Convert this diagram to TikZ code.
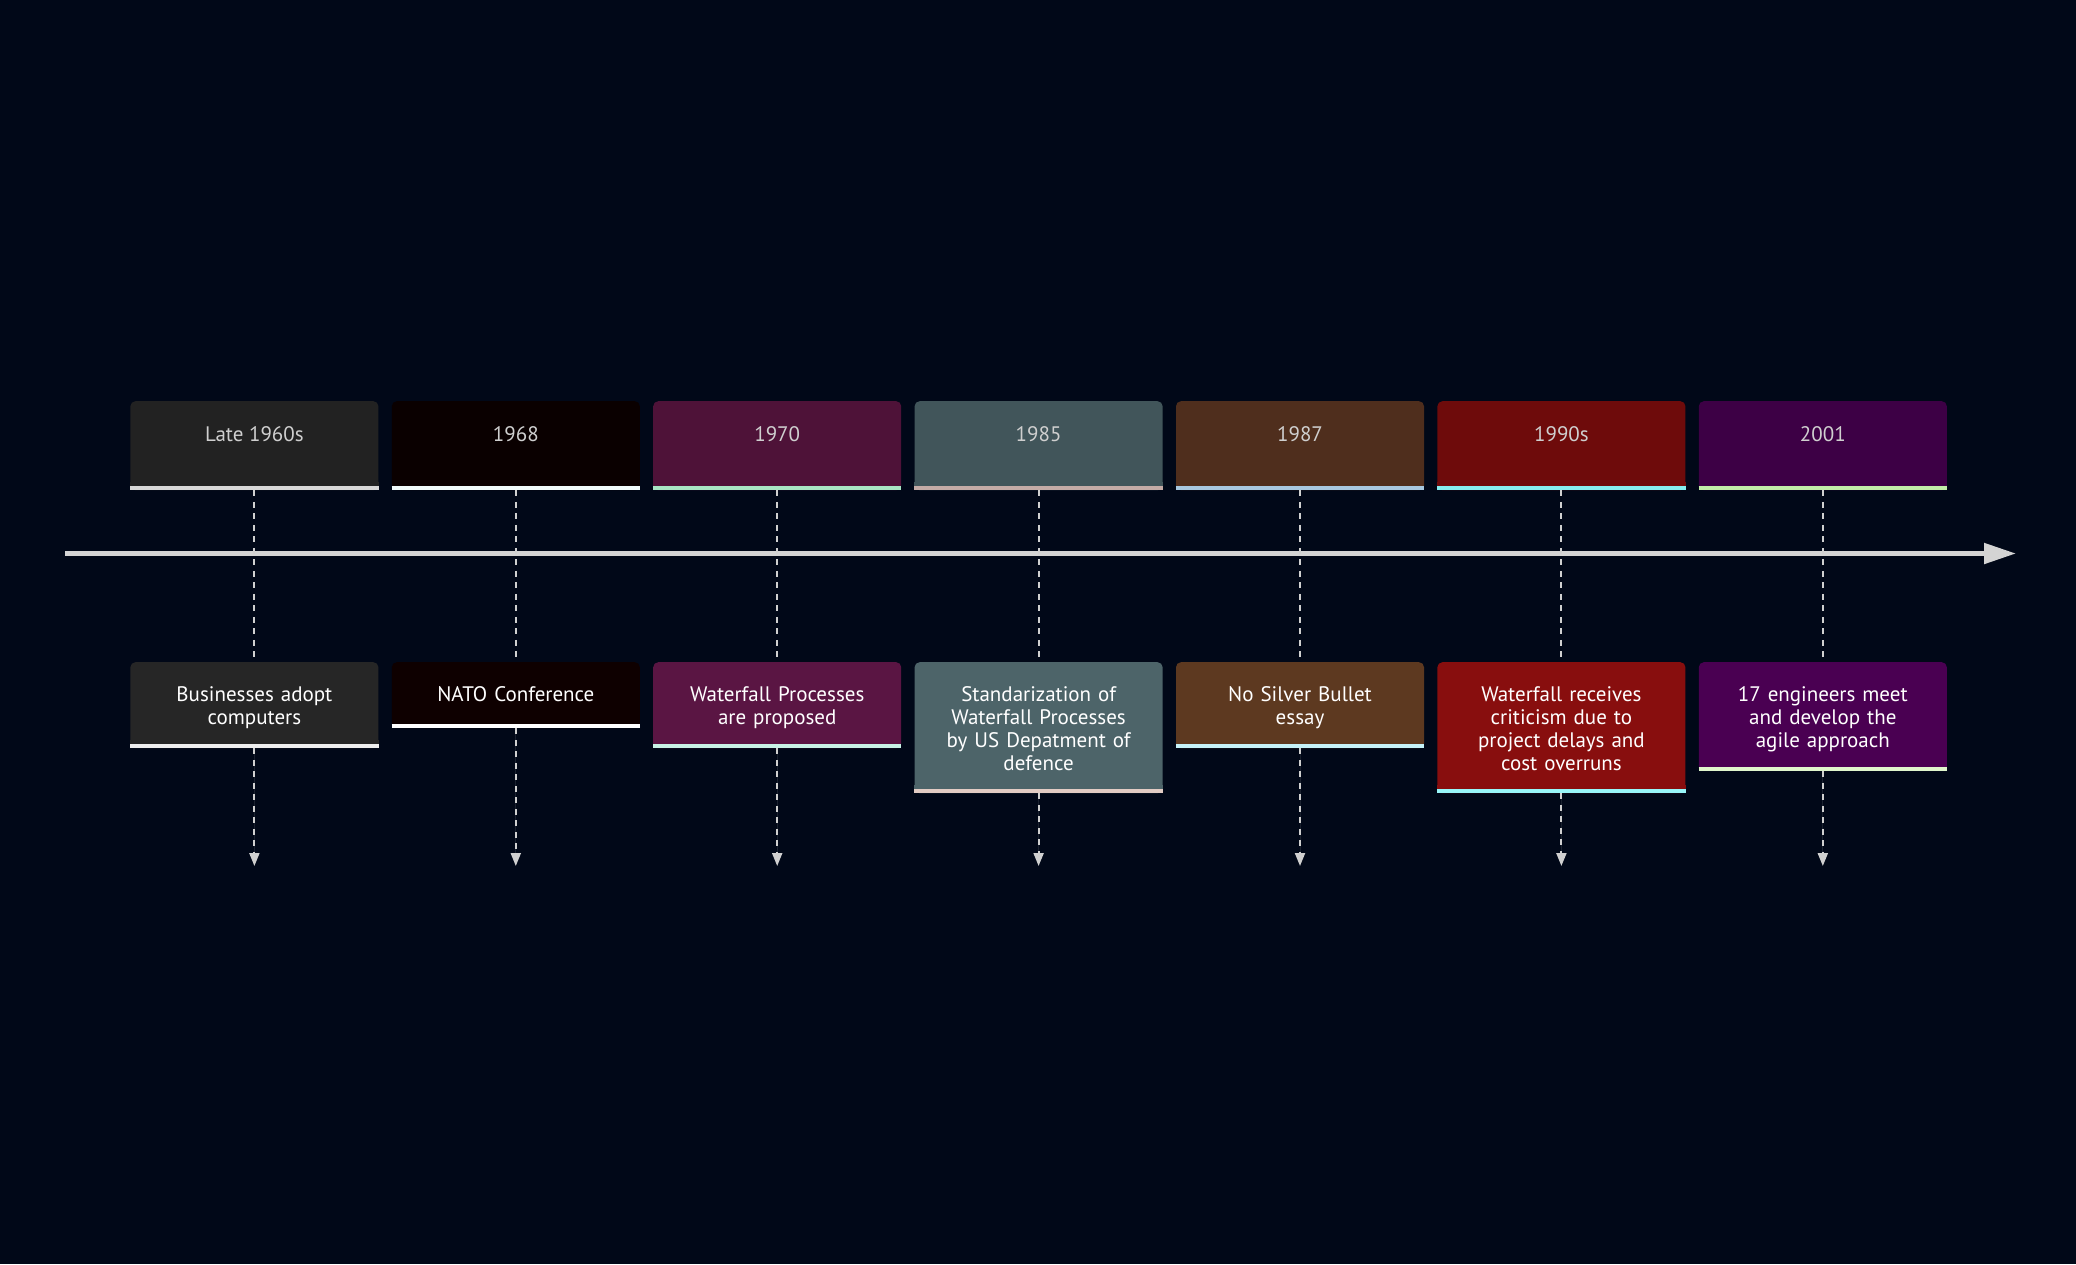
\documentclass[tikz,border=0pt]{standalone}
\usepackage{fontspec}
\setmainfont{PT Sans}
\usetikzlibrary{arrows.meta}
\definecolor{bgcol}{HTML}{010818}
\definecolor{axiscol}{HTML}{D4D4D4}
\definecolor{dashcol}{HTML}{D0D0D0}
\definecolor{toptxt}{HTML}{CFCFCF}
\definecolor{tfA}{HTML}{222222}\definecolor{tlA}{HTML}{D8D8D8}\definecolor{efA}{HTML}{262626}\definecolor{elA}{HTML}{EEEEEE}
\definecolor{tfB}{HTML}{0A0000}\definecolor{tlB}{HTML}{F0FAFA}\definecolor{efB}{HTML}{0E0000}\definecolor{elB}{HTML}{FFFFFF}
\definecolor{tfC}{HTML}{4E1238}\definecolor{tlC}{HTML}{A8E6C4}\definecolor{efC}{HTML}{5A1543}\definecolor{elC}{HTML}{C8F2E6}
\definecolor{tfD}{HTML}{41555A}\definecolor{tlD}{HTML}{C4ABA6}\definecolor{efD}{HTML}{4D6469}\definecolor{elD}{HTML}{E2CCC4}
\definecolor{tfE}{HTML}{4F2E1D}\definecolor{tlE}{HTML}{A8C8E0}\definecolor{efE}{HTML}{5D3920}\definecolor{elE}{HTML}{C6F2F8}
\definecolor{tfF}{HTML}{6E0B0B}\definecolor{tlF}{HTML}{86EEF0}\definecolor{efF}{HTML}{880E0E}\definecolor{elF}{HTML}{98F6F8}
\definecolor{tfG}{HTML}{3D0045}\definecolor{tlG}{HTML}{C2EEA8}\definecolor{efG}{HTML}{4A0052}\definecolor{elG}{HTML}{E0F6CC}
\begin{document}
\begin{tikzpicture}[x=1pt,y=-1pt,
  periodbox/.style={rectangle, rounded corners=5pt, inner sep=0pt, minimum width=248pt, minimum height=89pt, anchor=north},
  periodtext/.style={anchor=base, inner sep=0pt, text=toptxt, font=\fontsize{21}{23}\selectfont},
  eventbox/.style={rectangle, rounded corners=5pt, inner sep=0pt, minimum width=248pt, anchor=north},
  eventtext/.style={anchor=north, inner sep=0pt, text width=236pt, align=center, text=white, font=\fontsize{21}{23}\selectfont},
  dashline/.style={draw=dashcol, line width=2pt, dash pattern=on 6pt off 5.5pt},
  axisline/.style={draw=axiscol, line width=5pt, -{Triangle[width=20pt,length=32pt]}}
]
\fill[bgcol] (0,0) rectangle (2076,1264);
\useasboundingbox (0,0) rectangle (2076,1264);

\coordinate (axstart) at (65,553.5);
\coordinate (axend) at (2016,553.5);
\draw[axisline] (axstart) -- (axend);

\foreach \i/\n/\yr/\txt/\h in {
  0/A/{Late 1960s}/{Businesses adopt\\computers}/86,
  1/B/{1968}/{NATO Conference}/66,
  2/C/{1970}/{Waterfall Processes\\are proposed}/86,
  3/D/{1985}/{Standarization of\\Waterfall Processes\\by US Depatment of\\defence}/131,
  4/E/{1987}/{No Silver Bullet\\essay}/86,
  5/F/{1990s}/{Waterfall receives\\criticism due to\\project delays and\\cost overruns}/131,
  6/G/{2001}/{17 engineers meet\\and develop the\\agile approach}/108.6}
{
  \pgfmathsetmacro{\cx}{254.4+261.4*\i}
  % period box
  \node[periodbox, fill=tf\n] (t\n) at (\cx,401) {};
  \fill[tf\n] ([yshift=8pt]t\n.south west) rectangle (t\n.south east);
  \draw[line width=4pt, tl\n] ([yshift=2pt]t\n.south west) -- ([yshift=2pt]t\n.south east);
  \node[periodtext] (tt\n) at ([yshift=-40pt]t\n.north) {\yr};
  % event box
  \node[eventbox, fill=ef\n, minimum height=\h pt] (e\n) at (\cx,662) {};
  \fill[ef\n] ([yshift=8pt]e\n.south west) rectangle (e\n.south east);
  \draw[line width=4pt, el\n] ([yshift=2pt]e\n.south west) -- ([yshift=2pt]e\n.south east);
  \node[eventtext] (et\n) at ([yshift=-23pt]e\n.north) {\rule{0pt}{16pt}\txt};
  % connectors
  \coordinate (z\n) at (\cx,866);
  \draw[dashline] (t\n.south) -- (e\n.north);
  \draw[dashline, -{Triangle[width=10pt,length=13pt]}, fill=dashcol] (e\n.south) -- (z\n);
}
\end{tikzpicture}
\end{document}
